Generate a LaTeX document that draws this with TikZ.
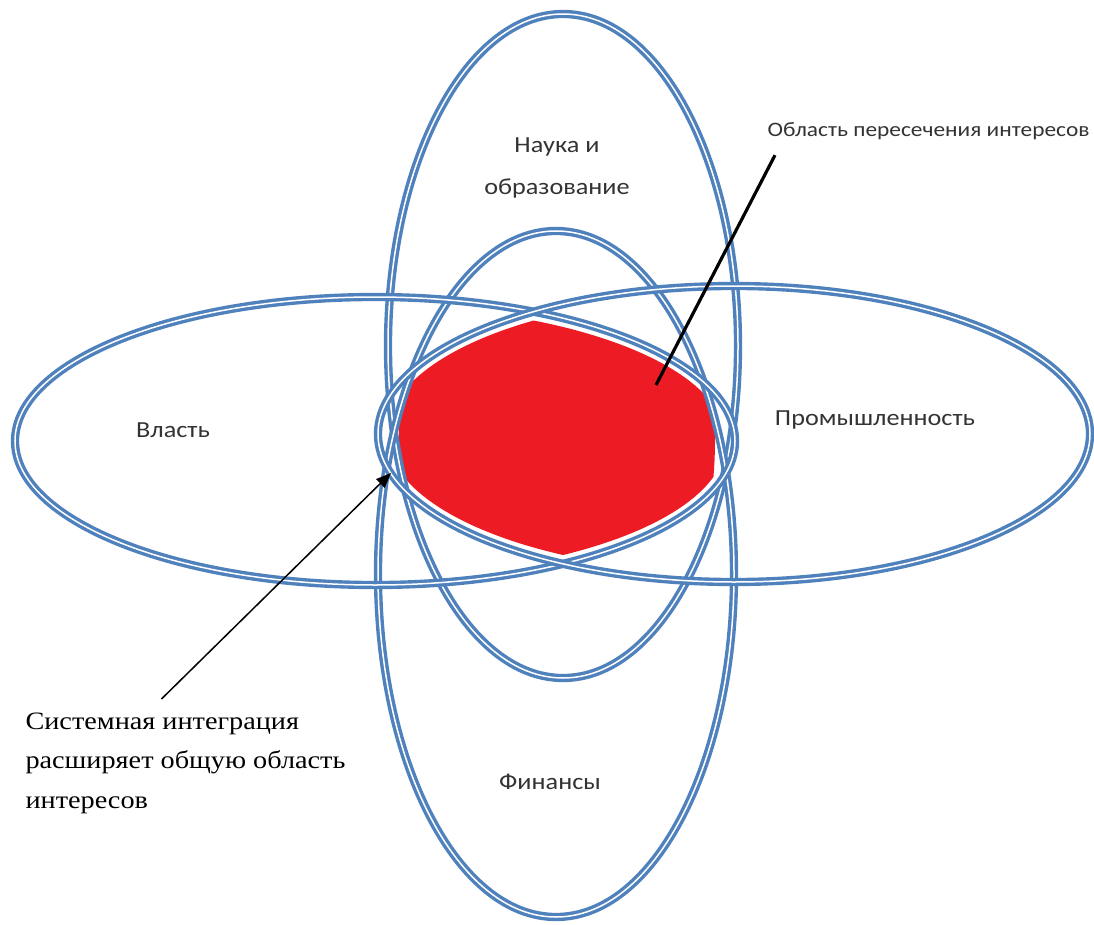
\documentclass[tikz,border=0pt]{standalone}
\usepackage{fontspec}
\usepackage{tikz}
\usetikzlibrary{arrows.meta, positioning}
\setmainfont{Liberation Serif}
\newfontfamily\labelfont[FakeStretch=1.14]{Carlito}
\newfontfamily\notefont[FakeStretch=1.13]{Liberation Serif}
\definecolor{ringblue}{RGB}{79,129,189}
\definecolor{zonered}{RGB}{237,28,36}
\tikzstyle{arrow} = [line width=1.5pt,-{Triangle[length=15pt,width=12pt]}]
\tikzset{every node/.style={align=center}}

\begin{document}
\begin{tikzpicture}[x=1pt, y=-1pt,
    ring/.style={draw=ringblue, line width=3.4pt, double=white, double distance=1.5pt},
    sector/.style={font=\labelfont\fontsize{23}{42}\selectfont, text=black!80}
]
  \useasboundingbox (0,0) rectangle (1094,925);

  % --- common zone ---
  \begin{scope}
    \clip (375,441) ellipse (351 and 135);
    \clip (734,434) ellipse (347 and 139);
    \clip (557,440) ellipse (158 and 260);
    \fill[zonered] (380,290) rectangle (740,590);
  \end{scope}

  % --- four spheres ---
  \draw[ring] (563,346) ellipse (175 and 332);
  \draw[ring] (556,574) ellipse (178 and 343);
  \draw[ring] (375,441) ellipse (360 and 144);
  \draw[ring] (734,434) ellipse (356 and 148);

  % --- sector labels ---
  \node[sector] (SCI) at (557,168) {Наука и\\образование};
  \node[sector] (GOV) at (173,430) {Власть};
  \node[sector] (IND) at (875,420) {Промышленность};
  \node[sector] (FIN) at (550,782) {Финансы};

  % --- callouts ---
  \node[sector, font=\labelfont\fontsize{20.5}{22}\selectfont, anchor=west]
       (ZONE) at (764,131) {Область пересечения интересов};
  \coordinate (ZONEPT) at (656,385);
  \draw[line width=3.2pt] ([xshift=11pt,yshift=-12pt]ZONE.south west) -- (ZONEPT);

  \node[font=\notefont\fontsize{25}{39.5}\selectfont, align=left, anchor=north west]
       (SYS) at (22,709) {Системная интеграция\\расширяет общую область\\интересов};
  \coordinate (SYSPT) at (391,473);
  \draw[arrow] ([xshift=-24pt,yshift=10pt]SYS.north) -- (SYSPT);
\end{tikzpicture}
\end{document}
